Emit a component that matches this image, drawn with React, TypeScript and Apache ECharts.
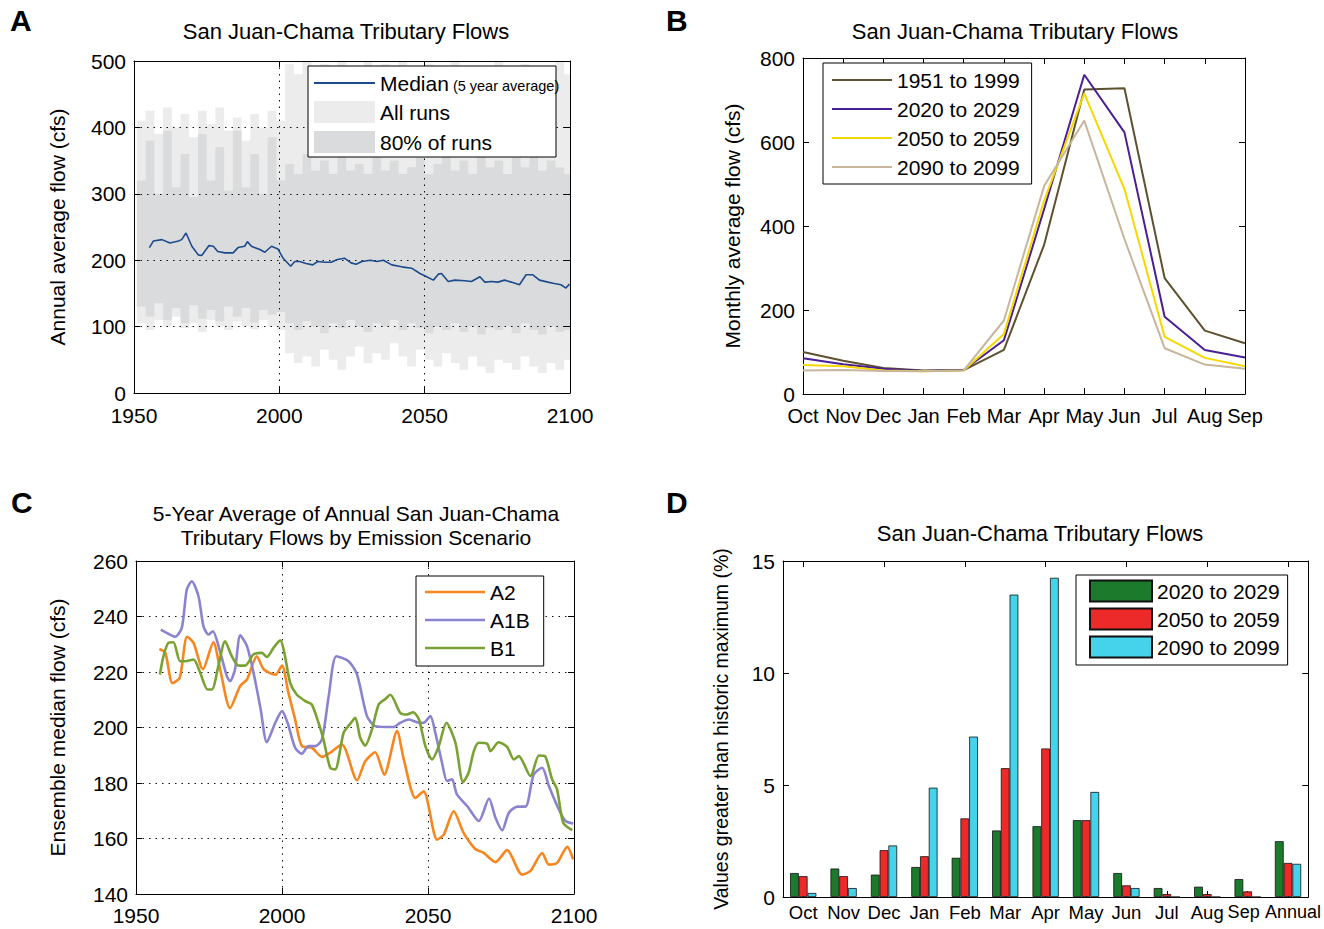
import React, { useEffect, useRef } from "react";
import * as echarts from "echarts";

const FONT = "'Liberation Sans', Arial, Helvetica, sans-serif";

// ---------- Panel A: annual flow, all runs / 80% bands and median ----------
const bandYears = [1951, 1954, 1957, 1960, 1963, 1966, 1969, 1972, 1975, 1978, 1981, 1984, 1987, 1990, 1993, 1996, 1999,
  2002, 2005, 2008, 2011, 2014, 2017, 2020, 2023, 2026, 2029, 2032, 2035, 2038, 2041, 2044, 2047, 2050, 2053, 2056,
  2059, 2062, 2065, 2068, 2071, 2074, 2077, 2080, 2083, 2086, 2089, 2092, 2095, 2098, 2100];
const allRunsHigh = [410, 425, 390, 430, 400, 420, 385, 425, 405, 430, 395, 415, 380, 420, 400, 425, 410,
  495, 480, 500, 470, 495, 485, 500, 460, 490, 500, 475, 495, 480, 500, 470, 490, 495, 465, 480,
  500, 470, 490, 460, 485, 500, 470, 480, 495, 465, 490, 475, 500, 480, 480];
const allRunsLow = [105, 95, 110, 100, 115, 98, 105, 92, 110, 100, 95, 108, 100, 96, 110, 100, 95,
  60, 45, 55, 40, 65, 50, 35, 55, 70, 45, 60, 50, 75, 55, 40, 65, 50, 40, 60,
  45, 35, 55, 40, 30, 50, 45, 35, 55, 40, 30, 45, 35, 50, 50];
const runs80High = [320, 380, 300, 395, 310, 360, 295, 390, 320, 370, 305, 395, 310, 360, 300, 385, 320,
  345, 330, 360, 335, 350, 330, 365, 335, 345, 330, 355, 335, 350, 330, 340, 355, 330, 345, 360,
  335, 350, 330, 360, 340, 350, 330, 355, 340, 365, 335, 350, 340, 330, 330];
const runs80Low = [130, 115, 135, 110, 128, 105, 132, 112, 125, 108, 130, 115, 128, 106, 125, 118, 122,
  105, 95, 108, 100, 90, 105, 98, 110, 100, 92, 105, 100, 110, 95, 105, 98, 90, 100, 95,
  105, 92, 100, 88, 98, 95, 100, 90, 105, 95, 88, 100, 92, 95, 95];
const medianYears = [1955.3, 1956.7, 1959.6, 1962.4, 1965.3, 1966.4, 1967.9, 1969.9, 1972.1, 1973.3, 1975.8, 1977.3,
  1978.8, 1981.3, 1984.1, 1985.8, 1988.1, 1989, 1990.4, 1993.3, 1995, 1997.3, 1999.5, 2001.3, 2003.9, 2005.3, 2007,
  2009.2, 2011.5, 2013.2, 2015.5, 2017.8, 2020, 2022.4, 2024.7, 2026.4, 2028.4, 2031.3, 2033.6, 2035.8, 2038.7,
  2042.1, 2045.5, 2048.4, 2050.7, 2053, 2054.7, 2055.8, 2058.1, 2060.4, 2063.8, 2066.1, 2069, 2070.7, 2073, 2075.2,
  2077.5, 2079.8, 2082.6, 2084.9, 2087.2, 2089.5, 2092.4, 2094.6, 2096.9, 2098.6, 2099.8];
const medianFlow = [219, 229, 231, 226, 229, 231, 241, 221, 208, 207, 222, 221,
  213, 211, 211, 219, 221, 228, 221, 216, 212, 221, 217, 203, 191, 198, 198,
  195, 193, 198, 197, 197, 201, 203, 196, 194, 198, 200, 198, 200, 193,
  190, 188, 180, 175, 170, 179, 180, 168, 170, 169, 168, 175, 167, 168, 167,
  170, 167, 163, 178, 178, 170, 167, 165, 163, 158, 164];

// ---------- Panel B: monthly average flow ----------
const months = ["Oct", "Nov", "Dec", "Jan", "Feb", "Mar", "Apr", "May", "Jun", "Jul", "Aug", "Sep"];
const flow1951to1999 = [100, 79, 62, 56, 57, 105, 355, 725, 728, 276, 151, 121];
const flow2020to2029 = [85, 71, 60, 55, 57, 128, 440, 760, 623, 184, 105, 87];
const flow2050to2059 = [69, 66, 56, 54, 56, 143, 460, 716, 488, 136, 86, 66];
const flow2090to2099 = [56, 57, 55, 54, 56, 175, 495, 651, 369, 109, 70, 60];

// ---------- Panel C: 5-year average by emission scenario ----------
const a2Years = [1958, 1960, 1962.5, 1965, 1967.5, 1969.7, 1972.9, 1976.5, 1978.8, 1982.2, 1985.7, 1988, 1991.4,
  1993.7, 1997.7, 2000, 2002.2, 2004.5, 2006.8, 2010.2, 2013.7, 2016.5, 2020.5, 2025.7, 2028.5, 2031.9, 2035,
  2039.4, 2041.7, 2045.7, 2048.5, 2053.1, 2055.4, 2058.8, 2062.2, 2066.2, 2069.1, 2073.1, 2077.1, 2082.2, 2085.1,
  2089.1, 2091.4, 2094.2, 2097.7, 2099.7];
const a2Flow = [228.3, 227, 216, 218, 232.7, 230.5, 221, 230.7, 221, 207, 215, 217.3, 225.7,
  221, 219, 222.3, 212.5, 202.9, 193.3, 192.7, 189.4, 190.9, 193.9, 181, 187.8, 191.1, 183,
  198.7, 188.5, 174.6, 177, 159.6, 161.4, 169.8, 162, 156.2, 154.8, 151.5, 155.8, 147, 148.3,
  154.8, 150.6, 151.2, 157, 152.5];
const a1bYears = [1958.5, 1960.5, 1963.4, 1965.7, 1967.4, 1969.1, 1971.4, 1973.1, 1974.8, 1976.3, 1978.6, 1981.1,
  1982.2, 1983.9, 1985.7, 1988, 1990.5, 1992.7, 1994.8, 1997.7, 2000, 2001.9, 2004.5, 2006.8, 2009.1, 2011.4,
  2013.7, 2016, 2018.6, 2022.8, 2025.7, 2029.1, 2031.9, 2035.9, 2038.2, 2040.5, 2043.4, 2046.2, 2048.5, 2050.8,
  2052.5, 2054.8, 2056.5, 2058.2, 2059.9, 2063.4, 2067.4, 2070.9, 2073.1, 2075.4, 2077.7, 2080.6, 2083.4, 2086.2,
  2089.1, 2091.4, 2094.8, 2097.1, 2099.7];
const a1bFlow = [235.3, 234.1, 232.7, 236, 249.7, 252.7, 247.3, 236.5, 233.5, 234.7, 228.1, 218.5,
  216.7, 220.9, 233.2, 229.3, 218.5, 206.5, 194.7, 201.7, 205.9, 201.7, 192.7, 190.6, 193.3, 193.3,
  195.7, 211.3, 225.7, 223.9, 219.1, 204.1, 200.5, 200.2, 200.2, 201.7, 202.9, 201.9, 201.7, 204.1,
  198.1, 187.3, 180.7, 181.3, 175.9, 171.7, 166.3, 174.4, 167.5, 163, 169.3, 171.5, 171.5, 183.1,
  185.5, 178.9, 170.5, 166.3, 165.4];
const b1Years = [1958.2, 1959.4, 1961.1, 1962.8, 1965.1, 1966.8, 1969.7, 1972, 1974.5, 1976, 1978.2, 1980.5,
  1982.8, 1985.1, 1987.4, 1990.2, 1993.1, 1994.8, 1997.1, 1999.4, 2000.7, 2002.8, 2005.1, 2008, 2010.2, 2012.5,
  2014.2, 2016.5, 2018.2, 2021.1, 2023.4, 2025.1, 2026.8, 2028.5, 2030.8, 2033.1, 2035.4, 2037.1, 2040.5, 2042.8,
  2044.9, 2046.9, 2049.1, 2051.4, 2053.7, 2056.3, 2059.4, 2062, 2063.9, 2065.7, 2067.4, 2070.3, 2071.4, 2074.2,
  2077.1, 2079.4, 2081.1, 2085.1, 2088, 2090, 2092.5, 2094.2, 2096.3, 2099.4];
const b1Flow = [219.1, 225.7, 230.5, 230.7, 223.9, 223.9, 224.5, 219.7, 213.7, 213.7, 222.1, 231.1,
  225.7, 222.3, 222.3, 226.3, 226.9, 225.4, 228.7, 231.4, 227.5, 216.1, 211.8, 209.5, 208.3, 201.7,
  195.7, 185.5, 184.9, 198.1, 201.4, 203.5, 196.3, 193.5, 199.3, 208.3, 210.3, 211.8, 205.3, 204.7,
  205.5, 202.9, 193.3, 188.5, 193.3, 201.7, 194.5, 180.3, 183.7, 191.5, 194.5, 194.1, 191.5, 194.7,
  193, 188.5, 189.7, 182.5, 189.9, 189.7, 181.3, 177.7, 165.7, 163];

// ---------- Panel D: values greater than historic maximum ----------
const dCategories = ["Oct", "Nov", "Dec", "Jan", "Feb", "Mar", "Apr", "May", "Jun", "Jul", "Aug", "Sep", "Annual"];
const pct2020to2029 = [1.07, 1.27, 1.0, 1.34, 1.75, 2.97, 3.16, 3.43, 1.07, 0.4, 0.46, 0.8, 2.49];
const pct2050to2059 = [0.93, 0.93, 2.09, 1.82, 3.51, 5.75, 6.63, 3.43, 0.52, 0.13, 0.13, 0.25, 1.52];
const pct2090to2099 = [0.18, 0.4, 2.3, 4.88, 7.16, 13.5, 14.25, 4.69, 0.4, 0, 0, 0, 1.48];

const zip = (xs: number[], ys: number[]) => xs.map((x, i) => [x, ys[i]]);

const black = "#000";
const dotted = { show: true, lineStyle: { color: "#111", type: [1.5, 5], width: 1 } };
const labelStyle = { fontSize: 21, color: black, fontFamily: FONT };
const nameStyle = { fontSize: 21, color: black, fontFamily: FONT };

function mainValueAxis(gridIndex: number, position: string, min: number, max: number, interval: number, margin: number, extra: any = {}) {
  return {
    type: "value", gridIndex, position, min, max, interval,
    axisLine: { show: true, onZero: false, lineStyle: { color: black, width: 1 } },
    axisTick: { show: true, inside: true, length: 6, lineStyle: { color: black } },
    axisLabel: { ...labelStyle, margin, formatter: (v: number) => String(v) },
    splitLine: { show: false },
    ...extra,
  };
}
function mirrorValueAxis(gridIndex: number, position: string, min: number, max: number, interval: number, extra: any = {}) {
  return {
    type: "value", gridIndex, position, min, max, interval,
    axisLine: { show: true, onZero: false, lineStyle: { color: black, width: 1 } },
    axisTick: { show: true, inside: true, length: 6, lineStyle: { color: black } },
    axisLabel: { show: false },
    splitLine: { show: false },
    ...extra,
  };
}
function catAxis(gridIndex: number, position: string, data: string[], boundaryGap: boolean, showLabel: boolean, fontSize = 21, margin = 12, labelExtra: any = {}) {
  return {
    type: "category", gridIndex, position, data, boundaryGap,
    axisLine: { show: true, onZero: false, lineStyle: { color: black, width: 1 } },
    axisTick: { show: true, inside: true, length: 6, alignWithLabel: true, lineStyle: { color: black } },
    axisLabel: showLabel ? { ...labelStyle, fontSize, margin, interval: 0, ...labelExtra } : { show: false },
    splitLine: { show: false },
  };
}

function bandSeries(name: string, low: number[], high: number[], color: string, z: number) {
  return {
    type: "custom", name, xAxisIndex: 0, yAxisIndex: 0, z, clip: true,
    itemStyle: { color },
    encode: { x: 0, y: 1 },
    data: [[bandYears[0], low[0]]],
    renderItem: (params: any, api: any) => {
      const pts: number[][] = [];
      for (let i = 0; i < bandYears.length - 1; i++) {
        pts.push(api.coord([bandYears[i], high[i]]));
        pts.push(api.coord([bandYears[i + 1], high[i]]));
      }
      for (let i = bandYears.length - 2; i >= 0; i--) {
        pts.push(api.coord([bandYears[i + 1], low[i]]));
        pts.push(api.coord([bandYears[i], low[i]]));
      }
      return { type: "polygon", shape: { points: pts }, style: { fill: color } };
    },
  };
}

function lineSeries(name: string, xIdx: number, data: any[], color: string, width: number) {
  return {
    type: "line", name, xAxisIndex: xIdx, yAxisIndex: xIdx, data, symbol: "none",
    lineStyle: { color, width }, itemStyle: { color }, z: 6,
  };
}

function barSeries(name: string, data: number[], color: string) {
  return {
    type: "bar", name, xAxisIndex: 6, yAxisIndex: 6, data, barGap: "0%", barCategoryGap: "35%",
    itemStyle: { color, borderColor: "#111", borderWidth: 0.8 },
  };
}

const legendBase = {
  orient: "vertical", itemWidth: 60, z: 10,
  textStyle: { fontSize: 21, color: black, fontFamily: FONT, lineHeight: 24 },
};

const letterStyle = { fontSize: 30, fontWeight: "bold", color: black, lineHeight: 34 };
const titleStyle = { fontSize: 22, fontWeight: "normal", color: black, lineHeight: 26 };

const dLabelExtra = {
  formatter: (v: string) => (v === "Annual" ? "{an|Annual}" : v === "Sep" ? "{sp|Sep}" : v),
  rich: {
    an: { fontSize: 18, fontFamily: FONT, color: black, padding: [0, 0, 0, 10] },
    sp: { fontSize: 18, fontFamily: FONT, color: black, padding: [0, 8, 0, 0] },
  },
};

const option: any = {
  animation: false,
  backgroundColor: "#fff",
  textStyle: { fontFamily: FONT },
  title: [
    { text: "A", left: 10, top: 3, padding: 0, textStyle: letterStyle },
    { text: "B", left: 666, top: 3, padding: 0, textStyle: letterStyle },
    { text: "C", left: 11, top: 485, padding: 0, textStyle: letterStyle },
    { text: "D", left: 666, top: 485, padding: 0, textStyle: letterStyle },
    { text: "San Juan-Chama Tributary Flows", left: 346, top: 18, padding: 0, textAlign: "center", textStyle: titleStyle },
    { text: "San Juan-Chama Tributary Flows", left: 1015, top: 18, padding: 0, textAlign: "center", textStyle: titleStyle },
    { text: "5-Year Average of Annual San Juan-Chama\nTributary Flows by Emission Scenario", left: 356, top: 501, padding: 0, textAlign: "center", textStyle: { ...titleStyle, fontSize: 21, lineHeight: 24 } },
    { text: "San Juan-Chama Tributary Flows", left: 1040, top: 520, padding: 0, textAlign: "center", textStyle: titleStyle },
  ],
  grid: [
    { left: 134, top: 61, width: 436, height: 332 },
    { left: 803, top: 58, width: 442, height: 336 },
    { left: 136, top: 561, width: 438, height: 333 },
    { left: 783, top: 561, width: 527, height: 336 },
  ],
  xAxis: [
    mainValueAxis(0, "bottom", 1950, 2100, 50, 12, { splitLine: dotted, z: 5 }),
    mirrorValueAxis(0, "top", 1950, 2100, 50, { z: 5 }),
    catAxis(1, "bottom", months, false, true, 20, 12),
    catAxis(1, "top", months, false, false),
    mainValueAxis(2, "bottom", 1950, 2100, 50, 11, { splitLine: dotted }),
    mirrorValueAxis(2, "top", 1950, 2100, 50),
    catAxis(3, "bottom", dCategories, true, true, 18.5, 6, dLabelExtra),
    catAxis(3, "top", dCategories, true, false),
  ],
  yAxis: [
    mainValueAxis(0, "left", 0, 500, 100, 8, {
      splitLine: dotted, z: 5, name: "Annual average flow (cfs)", nameLocation: "middle", nameGap: 66, nameTextStyle: nameStyle,
    }),
    mirrorValueAxis(0, "right", 0, 500, 100, { z: 5 }),
    mainValueAxis(1, "left", 0, 800, 200, 8, {
      name: "Monthly average flow (cfs)", nameLocation: "middle", nameGap: 60, nameTextStyle: nameStyle,
    }),
    mirrorValueAxis(1, "right", 0, 800, 200),
    mainValueAxis(2, "left", 140, 260, 20, 8, {
      splitLine: dotted, name: "Ensemble median flow (cfs)", nameLocation: "middle", nameGap: 68, nameTextStyle: nameStyle,
    }),
    mirrorValueAxis(2, "right", 140, 260, 20),
    mainValueAxis(3, "left", 0, 15, 5, 8, {
      name: "Values greater than historic maximum (%)", nameLocation: "middle", nameGap: 52, nameTextStyle: { ...nameStyle, fontSize: 19.5 },
    }),
    mirrorValueAxis(3, "right", 0, 15, 5),
  ],
  graphic: {
    elements: [
      { type: "rect", z: 9, shape: { x: 308, y: 66, width: 248, height: 91 }, style: { fill: "#fff", stroke: black, lineWidth: 1 } },
    ],
  },
  legend: [
    {
      ...legendBase, left: 314, top: 71, padding: 0, itemWidth: 61, itemHeight: 2, icon: "rect",
      data: ["Median"],
      formatter: () => "{a|Median}{b|(5 year average)}",
      textStyle: {
        ...legendBase.textStyle,
        rich: {
          a: { fontSize: 21, fontFamily: FONT, color: black, padding: [0, 4, 0, 0] },
          b: { fontSize: 14.5, fontFamily: FONT, color: black, padding: [5, 0, 0, 0] },
        },
      },
    },
    {
      ...legendBase, left: 314, top: 100, padding: 0, itemWidth: 61, itemHeight: 22, itemGap: 6, icon: "rect",
      data: ["All runs", "80% of runs"],
    },
    {
      ...legendBase, left: 823, top: 63, padding: [5, 12, 5, 9], itemHeight: 2, itemGap: 5, icon: "rect",
      borderColor: black, borderWidth: 1, backgroundColor: "#fff",
      data: ["B:1951 to 1999", "B:2020 to 2029", "B:2050 to 2059", "B:2090 to 2099"],
      formatter: (n: string) => n.slice(2),
    },
    {
      ...legendBase, left: 416, top: 576, padding: [4, 14, 6, 9], itemHeight: 2.5, itemGap: 4, icon: "rect",
      borderColor: black, borderWidth: 1, backgroundColor: "#fff",
      data: ["A2", "A1B", "B1"],
    },
    {
      ...legendBase, left: 1076, top: 575, padding: [4, 8, 6, 13], itemWidth: 62, itemHeight: 21, itemGap: 4, icon: "rect",
      borderColor: black, borderWidth: 1, backgroundColor: "#fff",
      data: ["2020 to 2029", "2050 to 2059", "2090 to 2099"],
    },
  ],
  series: [
    bandSeries("All runs", allRunsLow, allRunsHigh, "#ececec", 1),
    bandSeries("80% of runs", runs80Low, runs80High, "#dadbdc", 2),
    lineSeries("Median", 0, zip(medianYears, medianFlow), "#1d4a8c", 1.6),

    lineSeries("B:1951 to 1999", 2, flow1951to1999, "#5e512f", 2),
    lineSeries("B:2020 to 2029", 2, flow2020to2029, "#4a1f94", 2),
    lineSeries("B:2050 to 2059", 2, flow2050to2059, "#f6d800", 2),
    lineSeries("B:2090 to 2099", 2, flow2090to2099, "#c7b59c", 2),

    { ...lineSeries("A2", 4, zip(a2Years, a2Flow), "#f8861f", 2.6), smooth: 0.25 },
    { ...lineSeries("A1B", 4, zip(a1bYears, a1bFlow), "#8a84d0", 2.6), smooth: 0.25 },
    { ...lineSeries("B1", 4, zip(b1Years, b1Flow), "#79a233", 2.6), smooth: 0.25 },

    barSeries("2020 to 2029", pct2020to2029, "#1c7a2d"),
    barSeries("2050 to 2059", pct2050to2059, "#ec2a2a"),
    barSeries("2090 to 2099", pct2090to2099, "#45d3ec"),
  ],
};

export default function App() {
  const ref = useRef<HTMLDivElement>(null);
  useEffect(() => {
    if (!ref.current) return;
    const chart = echarts.init(ref.current, undefined, { renderer: "svg" });
    chart.setOption(option);
    return () => chart.dispose();
  }, []);
  return <div ref={ref} style={{ position: "absolute", left: 0, top: 0, width: 1324, height: 929 }} />;
}
